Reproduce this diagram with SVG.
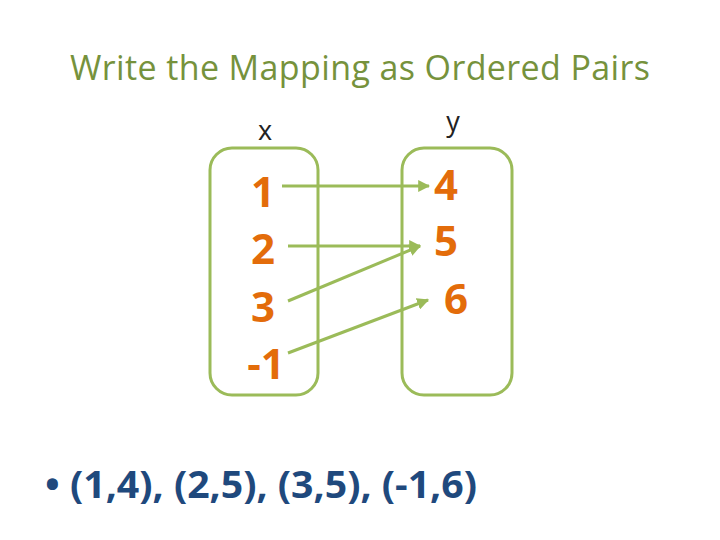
<svg xmlns="http://www.w3.org/2000/svg" width="720" height="540" viewBox="0 0 720 540">
<style>
.t{font-family:"Open Sans","Liberation Sans",sans-serif}
.n{font-family:"Open Sans","Liberation Sans",sans-serif;font-weight:bold;font-size:42px;fill:#E36C0A;text-anchor:middle}
.box{fill:none;stroke:#9BBB59;stroke-width:3}
.c{stroke:#9BBB59;stroke-width:3;fill:none;marker-end:url(#a)}
</style>
<defs><marker id="a" viewBox="0 0 10 10" refX="9" refY="5" markerWidth="4" markerHeight="4" orient="auto"><path d="M0,0L10,5L0,10z" fill="#9BBB59"/></marker></defs>
<rect width="720" height="540" fill="#fff"/>
<text class="t" x="360" y="80" font-size="34" fill="#76923C" text-anchor="middle" textLength="580">Write the Mapping as Ordered Pairs</text>
<g id="labels"><text class="t" x="265" y="140" font-size="27" fill="#222" text-anchor="middle">x</text><text class="t" x="453" y="131" font-size="27" fill="#222" text-anchor="middle">y</text></g>
<g id="domain"><rect class="box" x="210" y="148" width="108" height="247" rx="22"/>
<text class="n" x="263" y="207">1</text><text class="n" x="263" y="264">2</text><text class="n" x="263" y="322">3</text><text class="n" x="266" y="379">-1</text></g>
<g id="range"><rect class="box" x="402" y="148" width="110" height="247" rx="22"/>
<text class="n" x="446" y="200">4</text><text class="n" x="446" y="256">5</text><text class="n" x="456" y="314">6</text></g>
<g id="connectors"><line class="c" x1="282" y1="186" x2="429" y2="186"/><line class="c" x1="288" y1="246" x2="420" y2="246"/><line class="c" x1="288" y1="301" x2="420" y2="246"/><line class="c" x1="288" y1="353" x2="428" y2="300"/></g>
<text class="t" x="45" y="498" font-size="38" font-weight="bold" fill="#1F497D" textLength="432" lengthAdjust="spacingAndGlyphs">• (1,4), (2,5), (3,5), (-1,6)</text>
</svg>
